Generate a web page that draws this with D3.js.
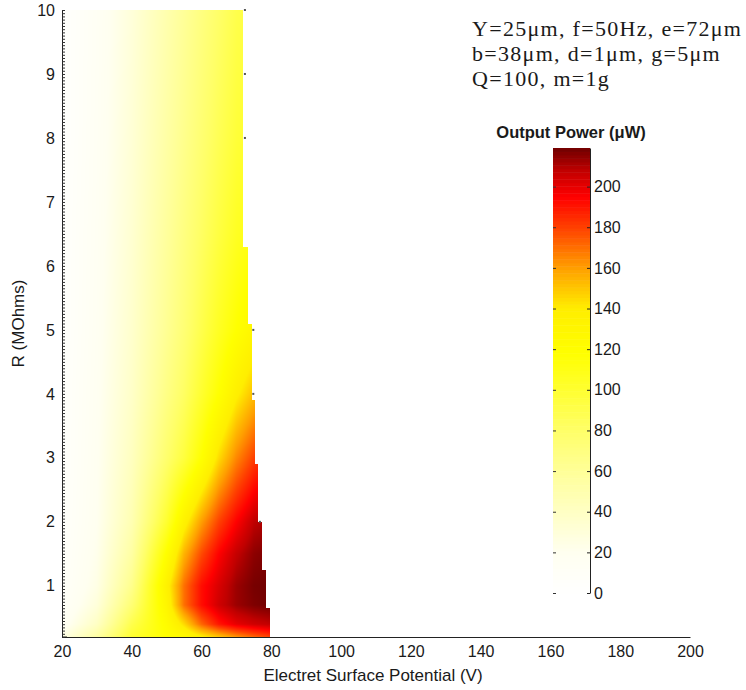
<!DOCTYPE html>
<html>
<head>
<meta charset="utf-8">
<script src="https://cdn.jsdelivr.net/npm/d3@7"></script>
<style>
  body { margin: 0; background: #fff; }
  text { font-family: "Liberation Sans", Arial, sans-serif; fill: #1a1a1a; }
</style>
</head>
<body>
<div id="chart"></div>
<script>
// grid of output power (uW)
var gridV = [20, 30, 40, 50, 55, 60, 65, 70, 75, 80];
var gridR = [0.2, 0.4, 0.7, 1.0, 1.5, 2, 3, 4, 5, 6.5, 8, 10];
var power = [
  [25, 55, 100, 118, 125, 138, 150, 162, 172, 180],  // R=0.2
  [15, 40,  90, 122, 145, 172, 190, 200, 205, 208],  // R=0.4
  [10, 30,  75, 130, 170, 192, 205, 213, 217, 219],  // R=0.7
  [ 8, 25,  65, 135, 170, 192, 203, 213, 218, 219],  // R=1
  [ 7, 22,  55, 120, 155, 178, 195, 207, 215, 218],  // R=1.5
  [ 6, 20,  48, 100, 135, 160, 180, 195, 208, 212],  // R=2
  [ 5, 19,  42,  78,  95, 118, 145, 165, 180, 190],  // R=3
  [ 5, 18,  38,  68,  82, 100, 118, 138, 152, 160],  // R=4
  [ 4, 17,  36,  62,  75,  90, 105, 118, 130, 135],  // R=5
  [ 4, 16,  34,  58,  70,  82,  94, 105, 112, 115],  // R=6.5
  [ 3, 15,  32,  54,  65,  76,  87,  97, 103, 106],  // R=8
  [ 3, 14,  30,  50,  60,  70,  80,  90,  95,  98]   // R=10
];

// highest potential computed for each band of R (staircase edge)
var edgeR = [0.65, 1.25, 2.0, 2.9, 3.9, 5.1, 6.3];
var edgeV = [79.6, 78.5, 77.3, 76.3, 75.3, 74.4, 73.3, 72];

var xTicks = [20, 40, 60, 80, 100, 120, 140, 160, 180, 200];
var yTicks = [1, 2, 3, 4, 5, 6, 7, 8, 9, 10];
var cbTicks = [0, 20, 40, 60, 80, 100, 120, 140, 160, 180, 200];
var dotTicks = [10, 9, 8, 5, 4, 2];

var stopValues = [0, 20, 40, 60, 80, 100, 118, 140, 160, 180, 195, 208, 219];
var stopColors = ["#ffffff", "#fffff0", "#ffffc4", "#ffff98", "#ffff68", "#ffff30", "#ffff00",
                  "#ffee00", "#ff9f00", "#ff4000", "#ff0000", "#c00000", "#700000"];

var notes = ["Y=25\u03bcm, f=50Hz, e=72\u03bcm", "b=38\u03bcm, d=1\u03bcm, g=5\u03bcm", "Q=100, m=1g"];

var w = 746, h = 690;
var svg = d3.select("#chart").append("svg").attr("width", w).attr("height", h);

var x = d3.scaleLinear().domain([20, 200]).range([62, 690]);
var y = d3.scaleLinear().domain([0.2, 10]).range([637, 10]);
var cb = d3.scaleLinear().domain([0, 219]).range([593, 148]);
var color = d3.scaleLinear().domain(stopValues).range(stopColors).clamp(true);
var edge = d3.scaleThreshold().domain(edgeR).range(edgeV);

// x axis (under the map)
var xAxis = svg.append("g").attr("transform", "translate(0,637)")
  .call(d3.axisBottom(x).tickValues(xTicks).tickSize(0).tickSizeOuter(0).tickPadding(9));
xAxis.selectAll("text").style("font-size", "16px");
xAxis.select(".domain").attr("stroke", "#222");

// heat map, bilinear between grid nodes
var vi = d3.scaleLinear().domain(gridV).range(d3.range(gridV.length)).clamp(true);
var ri = d3.scaleLinear().domain(gridR).range(d3.range(gridR.length)).clamp(true);
var x0 = Math.round(x(20)), x1 = Math.round(x(80)) + 1;
var y0 = Math.round(y(10)), y1 = Math.round(y(0.2));
var cw = x1 - x0, ch = y1 - y0;
var canvas = document.createElement("canvas");
canvas.width = cw; canvas.height = ch;
var ctx = canvas.getContext("2d");
var img = ctx.createImageData(cw, ch);
for (var j = 0; j < ch; j++) {
  var R = y.invert(y0 + j + 0.5);
  var rf = ri(R), r0 = Math.min(Math.floor(rf), gridR.length - 2), rt = rf - r0;
  var vmax = edge(R);
  for (var i = 0; i < cw; i++) {
    var V = x.invert(x0 + i + 0.5);
    if (V > vmax) continue;
    var vf = vi(V), c0 = Math.min(Math.floor(vf), gridV.length - 2), vt = vf - c0;
    var p = (power[r0][c0] * (1 - vt) + power[r0][c0 + 1] * vt) * (1 - rt) +
            (power[r0 + 1][c0] * (1 - vt) + power[r0 + 1][c0 + 1] * vt) * rt;
    var c = d3.rgb(color(p));
    var k = (j * cw + i) * 4;
    img.data[k] = c.r; img.data[k + 1] = c.g; img.data[k + 2] = c.b; img.data[k + 3] = 255;
  }
}
ctx.putImageData(img, 0, 0);
svg.append("image").attr("x", x0).attr("y", y0).attr("width", cw).attr("height", ch)
  .attr("href", canvas.toDataURL());

// small marks left along the edge
svg.append("g").selectAll("rect").data(dotTicks).join("rect")
  .attr("x", d => x(edge(d)) + 0.5).attr("y", d => y(d) - 1)
  .attr("width", 2).attr("height", 2).attr("fill", "#555");

// y axis
var yAxis = svg.append("g").attr("transform", "translate(62,0)")
  .call(d3.axisLeft(y).tickValues(yTicks).tickSize(0).tickSizeOuter(0).tickPadding(7));
yAxis.selectAll("text").style("font-size", "16px");
yAxis.select(".domain").attr("stroke", "#222");
svg.append("g").attr("transform", "translate(62,0)")
  .call(d3.axisRight(y).tickValues(d3.range(0.2, 10.001, 0.05)).tickSize(3).tickSizeOuter(0).tickFormat(""))
  .call(g => g.select(".domain").remove())
  .selectAll("line").attr("stroke", "#333");
svg.append("line").attr("x1", 62).attr("x2", 67).attr("y1", 637).attr("y2", 637).attr("stroke", "#222");

svg.append("text").attr("transform", "translate(24," + ((y(10) + y(0.2)) / 2) + ") rotate(-90)")
  .attr("text-anchor", "middle").style("font-size", "17px").text("R (MOhms)");
svg.append("text").attr("x", 373).attr("y", 681)
  .attr("text-anchor", "middle").style("font-size", "17px").text("Electret Surface Potential (V)");

// colour bar
var nb = 128, bw = 219 / nb;
var steps = d3.range(nb).map(k => k * bw);
svg.append("g").selectAll("rect").data(steps).join("rect")
  .attr("x", 553).attr("width", 37)
  .attr("y", d => cb(d + bw))
  .attr("height", d => cb(d) - cb(d + bw) + 0.5)
  .attr("fill", d => color(d + bw / 2));
var cbAxis = svg.append("g").attr("transform", "translate(590,0)")
  .call(d3.axisRight(cb).tickValues(cbTicks).tickSize(-3).tickSizeOuter(0).tickPadding(4));
cbAxis.selectAll("text").style("font-size", "16px");
cbAxis.select(".domain").attr("stroke", "#222");
cbAxis.selectAll("line").attr("stroke", "#222");
svg.append("g").attr("transform", "translate(553,0)")
  .call(d3.axisRight(cb).tickValues(cbTicks).tickSize(3).tickFormat(""))
  .call(g => g.select(".domain").remove())
  .selectAll("line").attr("stroke", "#333");
svg.append("text").attr("x", 571).attr("y", 138).attr("text-anchor", "middle")
  .style("font-size", "16.5px").style("font-weight", "bold").text("Output Power (\u03bcW)");

// parameter notes
svg.append("g").selectAll("text").data(notes).join("text")
  .attr("x", 472).attr("y", (d, i) => 36 + i * 25)
  .style("font-family", "'Liberation Serif', serif").style("font-size", "22px")
  .style("letter-spacing", "1.3px")
  .text(d => d);
</script>
</body>
</html>
